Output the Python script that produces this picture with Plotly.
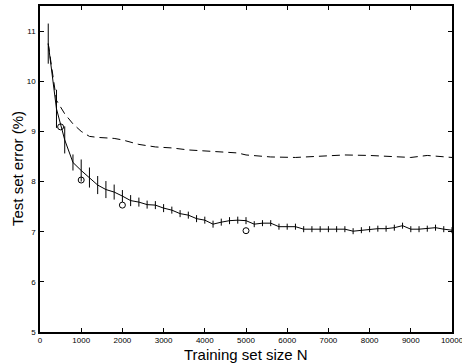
import plotly.graph_objects as go

# Solid curve with error bars (training set size N, test error %)
n_solid = list(range(200, 10001, 200))
err_solid = [10.75, 9.45, 8.83, 8.38, 8.22, 8.08, 7.93, 7.84, 7.79, 7.71,
             7.62, 7.59, 7.54, 7.53, 7.47, 7.43, 7.36, 7.33, 7.26, 7.23,
             7.15, 7.19, 7.22, 7.23, 7.22, 7.15, 7.17, 7.17, 7.10, 7.10,
             7.10, 7.05, 7.05, 7.05, 7.05, 7.05, 7.05, 7.01, 7.03, 7.05,
             7.06, 7.06, 7.08, 7.12, 7.05, 7.05, 7.06, 7.08, 7.05, 7.03]
bar_solid = [0.40, 0.38, 0.27, 0.16, 0.22, 0.20, 0.18, 0.17, 0.15, 0.12,
             0.11, 0.09, 0.08, 0.08, 0.08, 0.07, 0.07, 0.07, 0.07, 0.07,
             0.07, 0.07, 0.07, 0.07, 0.07, 0.06, 0.06, 0.06, 0.06, 0.06,
             0.06, 0.06, 0.06, 0.06, 0.06, 0.06, 0.06, 0.06, 0.06, 0.06,
             0.06, 0.06, 0.06, 0.06, 0.06, 0.06, 0.06, 0.06, 0.06, 0.06]

# Dashed curve
n_dashed = [200, 400, 600, 800, 1000, 1200, 1400, 1600, 1800, 2000, 2400, 2800,
            3200, 3600, 4000, 4400, 4800, 5000, 5600, 6200, 6800, 7400, 8000,
            8600, 9000, 9400, 10000]
err_dashed = [10.75, 9.62, 9.35, 9.15, 9.0, 8.9, 8.88, 8.87, 8.86, 8.83, 8.74, 8.69,
              8.67, 8.63, 8.61, 8.59, 8.57, 8.53, 8.49, 8.48, 8.51, 8.53, 8.52,
              8.49, 8.48, 8.52, 8.48]

# Circles
n_circ = [500, 1000, 2000, 5000]
err_circ = [9.09, 8.03, 7.53, 7.02]

x_ticks = list(range(0, 10001, 1000))
y_ticks = [5, 6, 7, 8, 9, 10, 11]

x_title = "Training set size N"
y_title = "Test set error (%)"

FONT = "Liberation Sans, Arial"

fig = go.Figure()
fig.add_trace(go.Scatter(
    x=n_dashed, y=err_dashed, mode="lines",
    line=dict(color="black", width=1, dash="8px,5px"), showlegend=False))
fig.add_trace(go.Scatter(
    x=n_solid, y=err_solid, mode="lines",
    line=dict(color="black", width=1),
    error_y=dict(type="data", array=bar_solid, visible=True, color="black",
                 thickness=1, width=0),
    showlegend=False))
fig.add_trace(go.Scatter(
    x=n_circ, y=err_circ, mode="markers",
    marker=dict(symbol="circle-open", size=6, color="black", line=dict(width=1)),
    showlegend=False))

axis_common = dict(showline=True, linecolor="black", linewidth=1.5, mirror="ticks",
                   ticks="inside", ticklen=4, tickcolor="black", tickwidth=1,
                   showgrid=False, zeroline=False, automargin=False,
                   ticklabeloverflow="allow",
                   tickfont=dict(family=FONT, size=8, color="black"))

fig.update_xaxes(range=[0, 10000], tickvals=x_ticks,
                 ticktext=[str(v) for v in x_ticks], **axis_common)
fig.update_yaxes(range=[5, 11.5], tickvals=y_ticks,
                 ticktext=[str(v) for v in y_ticks], ticklabelstandoff=1,
                 **axis_common)

fig.add_annotation(text=x_title, xref="paper", yref="paper", x=0.5, y=0,
                   xanchor="center", yanchor="middle", yshift=-22, showarrow=False,
                   font=dict(family=FONT, size=15, color="black"))
fig.add_annotation(text=y_title, xref="paper", yref="paper", x=0, y=0.5,
                   xanchor="center", yanchor="middle", xshift=-23, textangle=-90,
                   showarrow=False, font=dict(family=FONT, size=15, color="black"))

fig.update_layout(width=462, height=363,
                  margin=dict(l=40, r=10, t=6, b=31),
                  paper_bgcolor="white", plot_bgcolor="white")

fig.write_html("out.html", config={"displayModeBar": False},
               post_script="document.body.style.margin='0';document.body.style.overflow='hidden';")
